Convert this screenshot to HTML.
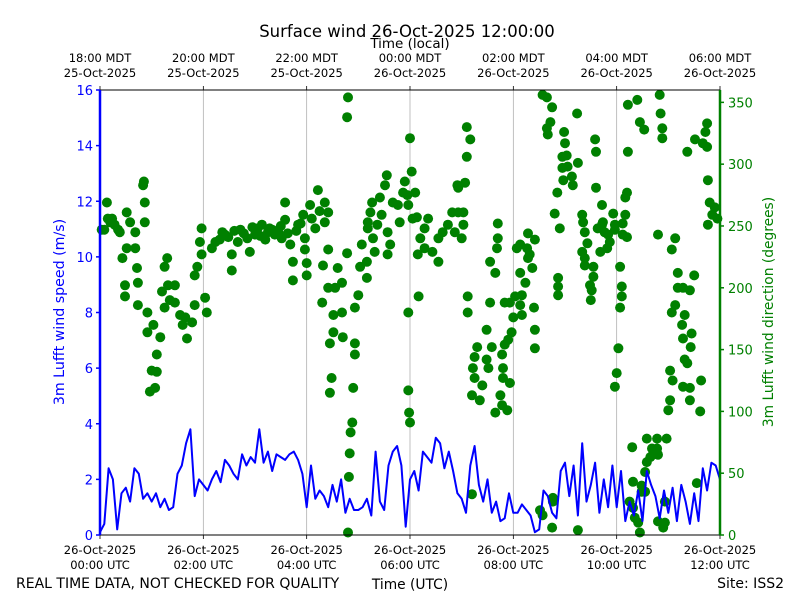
<!DOCTYPE html>
<html><head><meta charset="utf-8">
<style>
html,body{margin:0;padding:0;background:#fff;}
svg{display:block;font-family:"DejaVu Sans","Liberation Sans",sans-serif;}
</style></head>
<body>
<svg id="chart" width="800" height="600" viewBox="0 0 800 600" xmlns="http://www.w3.org/2000/svg">
<text x="407" y="37" font-size="16.5" text-anchor="middle">Surface wind 26-Oct-2025 12:00:00</text>
<text x="410" y="48" font-size="13.5" text-anchor="middle">Time (local)</text>
<text x="410" y="589" font-size="13.8" text-anchor="middle">Time (UTC)</text>
<text x="16" y="588" font-size="14">REAL TIME DATA, NOT CHECKED FOR QUALITY</text>
<text x="784" y="588" font-size="14" text-anchor="end">Site: ISS2</text>
<text transform="translate(64,312) rotate(-90)" font-size="14.2" fill="#0000ff" text-anchor="middle">3m Lufft wind speed (m/s)</text>
<text transform="translate(773,312) rotate(-90)" font-size="13.8" fill="#008000" text-anchor="middle">3m Lufft wind direction (degrees)</text>
<g id="grid"></g>
<g id="dots"></g>
<g id="line"></g>
<g id="axes"></g>
</svg>
<script>
const speed = [
0.1,0.4,2.4,2.0,0.2,1.5,1.7,1.2,2.4,2.2,1.3,1.5,
1.2,1.5,1.0,1.3,0.9,1.0,2.2,2.5,3.3,3.8,1.4,2.0,
1.8,1.6,2.0,2.3,1.9,2.7,2.5,2.2,2.0,2.9,2.5,2.8,
2.6,3.8,2.6,3.0,2.3,2.9,2.8,2.7,2.9,3.0,2.7,2.2,
1.0,2.5,1.3,1.6,1.4,1.0,1.8,1.2,2.0,0.8,1.3,0.9,
0.9,1.0,1.3,0.7,3.0,1.2,0.9,2.5,3.0,3.2,2.5,0.3,
2.0,2.3,1.6,3.0,2.8,2.6,3.5,3.3,2.4,3.0,2.3,1.5,
1.3,0.8,2.5,3.2,1.8,1.2,2.0,0.8,1.2,0.5,0.6,1.5,
0.8,0.8,1.1,0.9,0.7,0.1,0.2,1.6,1.4,0.8,0.6,2.3,
2.6,1.4,2.5,0.7,3.3,1.2,1.8,2.6,0.8,2.0,1.0,2.5,
1.0,2.3,0.5,1.2,0.7,1.6,0.5,2.3,1.8,1.4,0.6,1.6,
0.8,1.7,0.5,1.8,1.2,0.4,1.5,0.5,2.4,1.6,2.6,2.5,
2.0];
const speedStepMinutes = 5;
const dirMinutes = [8,9,5,2,12,17,14,21,23,31,35,41,50,51,52,52,26,31,41,43,44,29,29,44,55,55,62,70,66,60,66,58,64,78,75,72,79,87,75,87,93,96,101,107,110,110,113,118,116,118,122,124,81,99,
130,134,142,149,153,153,160,171,174,180,188,195,203,211,215,215,221,224,224,230,236,238,238,240,240,244,253,261,265,261,250,163,183,197,207,139,192,
145,156,167,177,186,200,210,218,228,233,246,255,
265,259,265,258,273,276,271,271,267,269,267,281,281,282,287,288,287,294,296,296,296,300,302,304,310,310,311,311,314,316,317,319,322,325,327,331,333,334,337,334,340,346,348,352,354,358,360,362,363,358,358,359,293,291,290,289,288,360,
357,366,368,372,377,381,369,377,386,393,393,398,404,409,412,416,420,422,416,415,424,426,430,426,422,370,427,427,449,438,435,433,435,444,432,441,449,451,453,455,453,459,461,462,462,467,468,468,465,467,459,473,476,470,474,478,480,470,476,482,488,490,494,488,490,484,488,496,497,502,499,497,505,504,505,505,511,514,526,526,525,555,432,
514,519,525,523,519,520,531,528,534,539,540,542,537,537,543,548,538,549,555,554,532,532,532,560,561,563,566,560,563,563,573,573,569,571,570,575,576,576,583,578,583,586,584,590,592,589,581,596,598,598,604,606,606,604,602,600,598,610,607,607,612,610,612,613,613,624,627,632,650,651,653,653,648,668,664,671,671,677,685,690,668,664,679,676,677,687,686,679,682,662,665,677,685,685,662,660,697,698,682,691,700,705,703,705,706,708,714,711,706,717,618,619,615,619,621,625,627,633,635,641,639,642,647,647,648,635,629,629,633,658,656,648,656,654,693];
const dirDegrees = [269,256,247,247,253,251,256,247,245,261,253,245,283,286,269,253,224,232,232,216,204,202,193,186,180,164,170,160,146,133,132,116,119,224,217,197,202,202,184,188,178,170,159,172,186,210,217,227,237,248,192,180,190,176,
232,237,245,241,227,214,237,240,229,243,251,245,243,240,269,255,235,221,206,251,259,240,231,220,210,267,279,269,261,253,248,247,248,248,245,239,239,
243,246,244,249,242,247,250,244,246,252,256,262,
231,218,200,188,200,216,178,164,155,127,115,204,180,160,228,354,338,119,155,146,184,194,217,235,208,221,248,253,261,269,240,229,251,273,259,283,291,245,235,227,269,267,253,277,286,267,321,294,256,180,117,99,91,83,66,47,2,91,
275,277,257,240,248,256,227,232,229,221,240,245,251,261,245,261,240,251,281,283,285,330,320,306,261,193,193,180,166,152,144,135,127,121,113,109,142,135,188,152,221,212,232,240,252,146,135,127,113,105,99,101,123,154,158,164,176,188,188,193,186,194,204,212,178,232,235,232,224,216,227,244,239,184,166,151,20,16,30,27,6,4,33,
356,354,346,334,329,324,277,260,248,326,317,307,306,297,298,290,287,283,301,341,208,201,194,259,253,245,236,229,224,218,217,209,202,198,190,320,310,281,267,248,251,245,253,243,237,232,229,260,251,247,217,201,193,184,151,131,120,259,252,243,241,273,277,310,348,352,334,328,356,341,329,321,243,240,231,212,200,200,198,210,186,180,178,170,159,163,152,142,139,133,125,120,119,109,109,101,100,125,310,320,317,314,326,333,287,269,265,259,251,256,71,43,27,22,14,10,2,51,78,70,63,65,78,70,65,59,40,35,35,78,27,11,10,6,42];
const leftTicks = [0,2,4,6,8,10,12,14,16];
const rightTicks = [0,50,100,150,200,250,300,350];
const timeTickHours = [0,2,4,6,8,10,12];
const utcLabels = [["26-Oct-2025","00:00 UTC"],["26-Oct-2025","02:00 UTC"],["26-Oct-2025","04:00 UTC"],["26-Oct-2025","06:00 UTC"],["26-Oct-2025","08:00 UTC"],["26-Oct-2025","10:00 UTC"],["26-Oct-2025","12:00 UTC"]];
const localLabels = [["18:00 MDT","25-Oct-2025"],["20:00 MDT","25-Oct-2025"],["22:00 MDT","25-Oct-2025"],["00:00 MDT","26-Oct-2025"],["02:00 MDT","26-Oct-2025"],["04:00 MDT","26-Oct-2025"],["06:00 MDT","26-Oct-2025"]];

const L=100,R=720,T=90,B=535;
const xH = h => L + (R-L)*h/12;
const xM = m => xH(m/60);
const yS = v => B - (B-T)*v/16;
const yD = d => B - (B-T)*d/360;
const NS="http://www.w3.org/2000/svg";
function mk(tag, attrs, parent){const e=document.createElementNS(NS,tag);for(const k in attrs)e.setAttribute(k,attrs[k]);parent.appendChild(e);return e;}
const grid=document.getElementById('grid'),dots=document.getElementById('dots'),line=document.getElementById('line'),axes=document.getElementById('axes');

timeTickHours.forEach((h,i)=>{
  const x=xH(h);
  if(h>0&&h<12){const g=mk('line',{x1:x,x2:x,y1:T,y2:B,stroke:'#b0b0b0','stroke-width':0.8},grid);
  
  }
  const tb=mk('line',{x1:x,x2:x,y1:B,y2:B+4,stroke:'#000','stroke-width':0.8},axes);
  
  
  const tt=mk('line',{x1:x,x2:x,y1:T,y2:T-4,stroke:'#000','stroke-width':0.8},axes);
  
  
  const lb=mk('text',{x:x,y:554,'font-size':11.5,'text-anchor':'middle'},axes);
  
  
  lb.innerHTML='<tspan x="'+x+'">'+utcLabels[i][0]+'</tspan><tspan x="'+x+'" dy="15">'+utcLabels[i][1]+'</tspan>';
  const lt=mk('text',{x:x,y:62,'font-size':11.5,'text-anchor':'middle'},axes);
  
  
  lt.innerHTML='<tspan x="'+x+'">'+localLabels[i][0]+'</tspan><tspan x="'+x+'" dy="15">'+localLabels[i][1]+'</tspan>';
});

for(let i=0;i<dirMinutes.length;i++){
  const c=mk('circle',{cx:xM(dirMinutes[i]).toFixed(1),cy:yD(dirDegrees[i]).toFixed(1),r:5,fill:'#008000'},dots);
  
  
}
const pts=speed.map((v,i)=>xM(i*speedStepMinutes).toFixed(1)+','+yS(v).toFixed(1)).join(' ');
const pl=mk('polyline',{points:pts,fill:'none',stroke:'#0000ff','stroke-width':2,'stroke-linejoin':'round'},line);



const frame=mk('rect',{x:L,y:T,width:R-L,height:B-T,fill:'none',stroke:'#000','stroke-width':1},axes);


const ls=mk('line',{x1:L,x2:L,y1:T,y2:B,stroke:'#0000ff','stroke-width':2.5},axes);


const rs=mk('line',{x1:R,x2:R,y1:T,y2:B,stroke:'#008000','stroke-width':2.5},axes);



leftTicks.forEach(v=>{
  const y=yS(v);
  const t=mk('line',{x1:L-4,x2:L,y1:y,y2:y,stroke:'#0000ff','stroke-width':1.5},axes);
  
  
  const tx=mk('text',{x:L-7,y:y+5,'font-size':13,'text-anchor':'end',fill:'#0000ff'},axes);
  
  
  tx.textContent=v;
});
rightTicks.forEach(v=>{
  const y=yD(v);
  const t=mk('line',{x1:R,x2:R+4,y1:y,y2:y,stroke:'#008000','stroke-width':1.5},axes);
  
  
  const tx=mk('text',{x:R+8,y:y+5,'font-size':13,fill:'#008000'},axes);
  
  
  tx.textContent=v;
});
</script>
</body></html>
